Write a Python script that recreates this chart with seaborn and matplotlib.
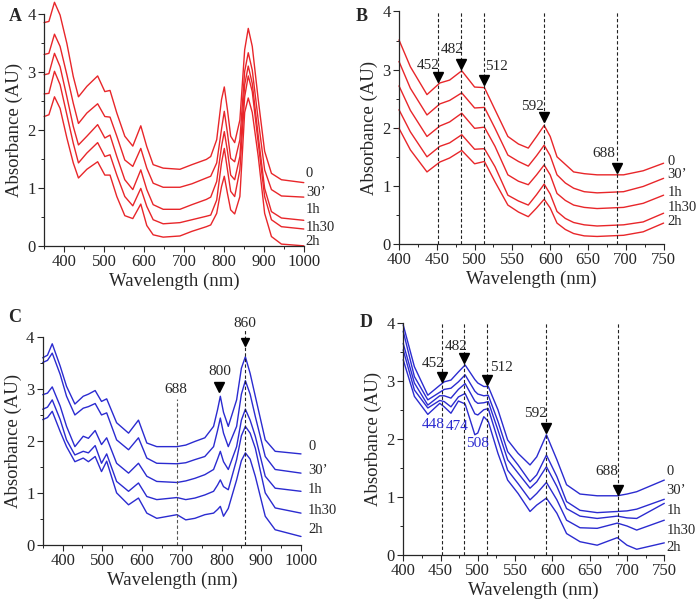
import numpy as np
import pandas as pd
import matplotlib
matplotlib.use('Agg')
import matplotlib.pyplot as plt
from matplotlib.ticker import MultipleLocator
import seaborn as sns

sns.set_style('ticks')
plt.rcParams['font.family'] = ['Liberation Serif', 'DejaVu Serif']

times = ['0', '30’', '1h', '1h30', '2h']
RED = '#e8262a'
BLUE = '#2b2bd0'

# ---- Panel A (red, 350-1000 nm) ----
a_nm = [350, 362, 376, 390, 407, 423, 436, 457, 484, 502, 515, 532, 552, 572, 592, 607, 623, 648,
        690, 720, 756, 767, 782, 794, 801, 809, 817, 827, 840, 852, 861, 871, 886, 902, 919, 944, 1000]
a_0 = [3.85, 3.87, 4.20, 3.98, 3.49, 2.92, 2.57, 2.75, 2.93, 2.66, 2.68, 2.29, 1.89, 1.72, 2.07, 1.71, 1.40, 1.34,
       1.32, 1.40, 1.49, 1.54, 1.83, 2.52, 2.74, 2.34, 1.89, 1.78, 2.17, 3.38, 3.75, 3.44, 2.52, 1.63, 1.25, 1.14, 1.09]
a_30 = [3.30, 3.32, 3.65, 3.44, 2.95, 2.46, 2.11, 2.29, 2.45, 2.23, 2.22, 1.89, 1.48, 1.37, 1.68, 1.34, 1.08, 1.01,
        1.01, 1.07, 1.17, 1.20, 1.43, 2.01, 2.32, 1.94, 1.51, 1.45, 1.83, 3.01, 3.33, 3.03, 2.17, 1.31, 0.97, 0.86, 0.84]
a_1h = [2.95, 2.97, 3.32, 3.09, 2.57, 2.06, 1.74, 1.89, 2.09, 1.86, 1.91, 1.54, 1.14, 0.97, 1.31, 0.97, 0.71, 0.63,
        0.63, 0.71, 0.80, 0.84, 1.11, 1.71, 1.97, 1.63, 1.22, 1.14, 1.54, 2.78, 3.10, 2.80, 1.89, 0.99, 0.59, 0.48, 0.44]
a_1h30 = [2.62, 2.63, 3.01, 2.78, 2.26, 1.77, 1.43, 1.60, 1.78, 1.54, 1.57, 1.22, 0.85, 0.69, 0.99, 0.68, 0.45, 0.38,
          0.40, 0.45, 0.51, 0.53, 0.79, 1.43, 1.68, 1.31, 0.94, 0.85, 1.31, 2.57, 2.93, 2.66, 1.77, 0.85, 0.45, 0.33, 0.29]
a_2h = [2.23, 2.26, 2.57, 2.37, 1.86, 1.43, 1.17, 1.32, 1.45, 1.22, 1.22, 0.85, 0.52, 0.47, 0.72, 0.35, 0.19, 0.15,
        0.17, 0.25, 0.33, 0.36, 0.56, 1.02, 1.20, 0.90, 0.62, 0.55, 0.85, 2.30, 2.55, 2.30, 1.54, 0.56, 0.16, 0.03, 0.00]

# ---- Panel B (red, 400-750 nm) ----
b_nm = [400, 415, 437, 454, 467, 483, 500, 513, 527, 544, 558, 571, 582, 592, 600, 609, 620, 631, 645, 662, 697, 723, 750]
b_0 = [3.51, 3.05, 2.57, 2.77, 2.82, 2.98, 2.70, 2.69, 2.31, 1.85, 1.72, 1.65, 1.85, 2.04, 1.85, 1.50, 1.37, 1.24, 1.21, 1.19, 1.19, 1.26, 1.39]
b_30 = [3.14, 2.68, 2.22, 2.41, 2.47, 2.60, 2.34, 2.35, 1.99, 1.53, 1.42, 1.34, 1.52, 1.70, 1.52, 1.19, 1.05, 0.96, 0.90, 0.88, 0.90, 0.99, 1.13]
b_1h = [2.72, 2.30, 1.85, 2.03, 2.10, 2.25, 1.99, 2.01, 1.68, 1.19, 1.08, 1.02, 1.19, 1.36, 1.19, 0.87, 0.75, 0.67, 0.63, 0.61, 0.63, 0.70, 0.84]
b_1h30 = [2.31, 1.93, 1.50, 1.68, 1.74, 1.88, 1.63, 1.64, 1.33, 0.84, 0.74, 0.67, 0.85, 1.03, 0.86, 0.56, 0.44, 0.37, 0.33, 0.31, 0.33, 0.38, 0.53]
b_2h = [1.99, 1.62, 1.24, 1.41, 1.48, 1.61, 1.38, 1.42, 1.07, 0.67, 0.55, 0.47, 0.62, 0.77, 0.62, 0.36, 0.25, 0.18, 0.14, 0.13, 0.15, 0.21, 0.36]

# ---- Panel C (blue, 350-1000 nm) ----
c_nm = [350, 362, 374, 394, 410, 431, 452, 465, 482, 498, 511, 536, 566, 591, 612, 637, 688, 710,
        733, 758, 780, 790, 797, 805, 817, 838, 850, 860, 872, 885, 910, 935, 1000]
c_0 = [3.60, 3.65, 3.87, 3.44, 3.05, 2.71, 2.86, 2.90, 2.97, 2.76, 2.81, 2.35, 2.15, 2.40, 1.96, 1.89, 1.89, 1.92,
       1.99, 2.06, 2.28, 2.60, 2.86, 2.55, 2.28, 2.79, 3.40, 3.62, 3.30, 2.86, 2.02, 1.80, 1.75]
c_30 = [3.51, 3.55, 3.69, 3.28, 2.86, 2.50, 2.63, 2.66, 2.72, 2.50, 2.54, 2.02, 1.83, 2.06, 1.67, 1.57, 1.56, 1.58,
        1.64, 1.70, 1.89, 2.20, 2.44, 2.15, 1.89, 2.28, 2.90, 3.16, 2.90, 2.47, 1.70, 1.45, 1.38]
c_1h = [2.89, 2.92, 3.04, 2.67, 2.28, 1.89, 2.09, 2.05, 2.20, 1.93, 2.06, 1.57, 1.38, 1.57, 1.32, 1.22, 1.20, 1.23,
        1.28, 1.35, 1.45, 1.65, 1.80, 1.60, 1.45, 1.89, 2.40, 2.61, 2.40, 2.09, 1.32, 1.09, 1.03]
c_1h30 = [2.61, 2.65, 2.79, 2.41, 2.02, 1.73, 1.80, 1.77, 1.91, 1.57, 1.75, 1.22, 1.03, 1.19, 0.93, 0.87, 0.91, 0.87,
          0.90, 0.96, 1.03, 1.15, 1.25, 1.12, 1.06, 1.64, 2.10, 2.28, 2.15, 1.86, 1.00, 0.71, 0.61]
c_2h = [2.41, 2.45, 2.57, 2.18, 1.89, 1.60, 1.67, 1.60, 1.70, 1.41, 1.61, 1.00, 0.77, 0.90, 0.61, 0.51, 0.58, 0.48,
        0.51, 0.58, 0.61, 0.68, 0.74, 0.55, 0.70, 1.25, 1.62, 1.77, 1.65, 1.32, 0.55, 0.29, 0.16]

# ---- Panel D (blue, 400-750 nm) ----
d_nm = [400, 415, 433, 449, 455, 464, 474, 483, 496, 500, 508, 514, 527, 540, 554, 570, 579, 592, 606, 619, 637, 660, 687, 700, 713, 750]
d_0 = [3.96, 3.24, 2.75, 2.92, 2.98, 3.01, 3.15, 3.27, 3.02, 2.96, 2.90, 2.90, 2.50, 1.98, 1.75, 1.55, 1.69, 2.07, 1.64, 1.21, 1.05, 1.02, 1.02, 1.05, 1.09, 1.29]
d_30 = [3.85, 3.07, 2.67, 2.80, 2.85, 2.87, 2.98, 3.10, 2.82, 2.77, 2.74, 2.75, 2.30, 1.78, 1.55, 1.26, 1.38, 1.72, 1.35, 0.92, 0.77, 0.73, 0.75, 0.76, 0.79, 0.96]
d_1h = [3.64, 2.96, 2.58, 2.74, 2.74, 2.70, 2.85, 2.95, 2.65, 2.61, 2.62, 2.64, 2.15, 1.64, 1.41, 1.15, 1.26, 1.52, 1.18, 0.80, 0.67, 0.63, 0.67, 0.64, 0.63, 0.89]
d_1h30 = [3.53, 2.84, 2.53, 2.66, 2.64, 2.55, 2.72, 2.78, 2.43, 2.41, 2.50, 2.52, 1.98, 1.46, 1.23, 0.95, 1.06, 1.25, 0.95, 0.60, 0.47, 0.46, 0.55, 0.50, 0.43, 0.60]
d_2h = [3.36, 2.73, 2.42, 2.61, 2.55, 2.44, 2.65, 2.60, 2.07, 2.10, 2.38, 2.30, 1.75, 1.29, 1.06, 0.75, 0.86, 0.98, 0.72, 0.37, 0.23, 0.17, 0.30, 0.17, 0.10, 0.21]

# curve labels at right end (x, y per panel)
a_lab_x, a_lab_y = 1005, [1.25, 0.92, 0.63, 0.31, 0.08]
b_lab_x, b_lab_y = 755, [1.42, 1.19, 0.88, 0.62, 0.38]
c_lab_x, c_lab_y = 1018, [1.89, 1.44, 1.06, 0.67, 0.29]
d_lab_x, d_lab_y = 753, [1.44, 1.11, 0.77, 0.43, 0.13]

# peak markers: wavelength, marker y, text x, text y
bd_peaks = [452, 482, 512, 592, 688]
b_mark_y = [2.88, 3.09, 2.82, 2.18, 1.31]
b_text_x = [439, 471, 529, 576, 671]
b_text_y = [3.07, 3.34, 3.06, 2.36, 1.56]
d_mark_y = [3.06, 3.39, 3.02, 2.18, 1.12]
d_text_x = [440, 471, 532, 577, 673]
d_text_y = [3.30, 3.59, 3.23, 2.44, 1.43]
d_blue_lab = ['448', '474', '508']
d_blue_x = [440, 473, 500]
d_blue_y = [2.24, 2.21, 1.92]

fig = plt.figure(figsize=(7.0, 6.04), dpi=100)


def panel(rect, nm, curves, color, xlim, xmajor, lab_x, lab_y, letter, letter_pos):
    ax = fig.add_axes(rect)
    df = pd.DataFrame({'nm': np.tile(nm, len(curves)),
                       'A': np.concatenate(curves),
                       'time': np.repeat(times, len(nm))})
    sns.lineplot(data=df, x='nm', y='A', units='time', estimator=None, sort=False,
                 color=color, lw=1.0, ax=ax, clip_on=False)
    ax.set_xlim(*xlim)
    ax.set_ylim(0, 4)
    ax.xaxis.set_major_locator(MultipleLocator(xmajor))
    ax.xaxis.set_minor_locator(MultipleLocator(xmajor / 2))
    ax.yaxis.set_major_locator(MultipleLocator(1))
    ax.yaxis.set_minor_locator(MultipleLocator(0.5))
    ax.tick_params(which='major', direction='out', length=4, width=0.8, labelsize=12, pad=2)
    ax.tick_params(which='minor', direction='out', length=2.5, width=0.7)
    sns.despine(ax=ax)
    for s in ['left', 'bottom']:
        ax.spines[s].set_linewidth(0.9)
    ax.set_xlabel('Wavelength (nm)', fontsize=13.5, labelpad=2)
    ax.set_ylabel('Absorbance (AU)', fontsize=13.5, labelpad=3)
    for t, y in zip(times, lab_y):
        ax.text(lab_x, y, t, fontsize=10.5, ha='left', va='center', clip_on=False)
    fig.text(letter_pos[0], letter_pos[1], letter, fontsize=13, fontweight='bold', va='center')
    return ax


axA = panel([0.063, 0.593, 0.371, 0.384], a_nm, [a_0, a_30, a_1h, a_1h30, a_2h], RED,
            (350, 1000), 100, a_lab_x, a_lab_y, 'A', (0.012, 0.972))
axB = panel([0.570, 0.596, 0.378, 0.385], b_nm, [b_0, b_30, b_1h, b_1h30, b_2h], RED,
            (400, 750), 50, b_lab_x, b_lab_y, 'B', (0.508, 0.972))
axC = panel([0.061, 0.098, 0.369, 0.344], c_nm, [c_0, c_30, c_1h, c_1h30, c_2h], BLUE,
            (350, 1000), 100, c_lab_x, c_lab_y, 'C', (0.012, 0.474))
axD = panel([0.576, 0.081, 0.373, 0.385], d_nm, [d_0, d_30, d_1h, d_1h30, d_2h], BLUE,
            (400, 750), 50, d_lab_x, d_lab_y, 'D', (0.514, 0.466))

# dashed guide lines with triangle markers (B and D)
for ax, my, tx, ty in [(axB, b_mark_y, b_text_x, b_text_y), (axD, d_mark_y, d_text_x, d_text_y)]:
    for p, m, x, y in zip(bd_peaks, my, tx, ty):
        ax.plot([p, p], [0, 4], ls=(0, (3, 2)), color='#222222', lw=0.8, clip_on=False)
        ax.plot([p], [m], marker='v', color='k', ms=7, clip_on=False)
        ax.text(x, y, str(p), fontsize=11, ha='center', va='center')

for lab, x, y in zip(d_blue_lab, d_blue_x, d_blue_y):
    axD.text(x, y, lab, fontsize=11, ha='center', va='center', color=BLUE)

# panel C annotations
axC.plot([688, 688], [0, 2.80], ls=(0, (3, 2)), color='#555555', lw=0.8)
axC.text(686, 2.99, '688', fontsize=11, ha='center', va='center')
axC.plot([794], [3.03], marker='v', color='k', ms=6.5)
axC.text(796, 3.34, '800', fontsize=11, ha='center', va='center')
axC.plot([860, 860], [0, 4.15], ls=(0, (3, 2)), color='#222222', lw=0.8, clip_on=False)
axC.plot([860], [3.90], marker='v', color='k', ms=5.5, clip_on=False)
axC.text(859, 4.26, '860', fontsize=11, ha='center', va='center', clip_on=False)

fig.savefig('out.png', dpi=100)
